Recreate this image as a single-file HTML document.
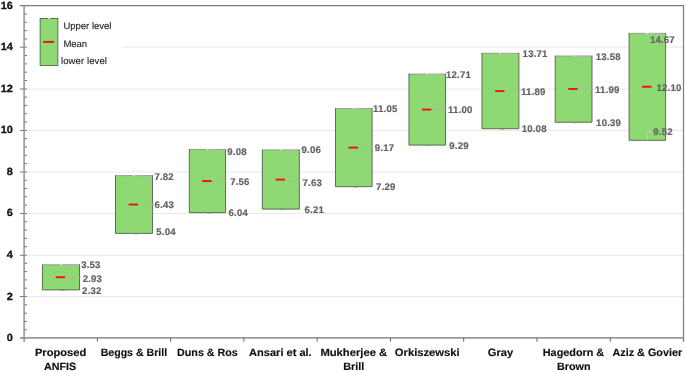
<!DOCTYPE html>
<html><head><meta charset="utf-8"><title>Chart</title>
<style>html,body{margin:0;padding:0;background:#fff}svg{display:block}</style></head>
<body>
<svg width="685" height="372" viewBox="0 0 685 372">
<rect width="685" height="372" fill="#fff"/>
<g text-rendering="geometricPrecision">
<line x1="24.1" y1="296.50" x2="683.5" y2="296.50" stroke="#e9e9e9" stroke-width="1"/>
<line x1="24.1" y1="255.30" x2="683.5" y2="255.30" stroke="#e9e9e9" stroke-width="1"/>
<line x1="24.1" y1="213.50" x2="683.5" y2="213.50" stroke="#e9e9e9" stroke-width="1"/>
<line x1="24.1" y1="172.00" x2="683.5" y2="172.00" stroke="#e9e9e9" stroke-width="1"/>
<line x1="24.1" y1="130.50" x2="683.5" y2="130.50" stroke="#e9e9e9" stroke-width="1"/>
<line x1="24.1" y1="89.00" x2="683.5" y2="89.00" stroke="#e9e9e9" stroke-width="1"/>
<line x1="121.8" y1="47.15" x2="683.5" y2="47.15" stroke="#e9e9e9" stroke-width="1"/>
<line x1="24.1" y1="329.79" x2="26.900000000000002" y2="329.79" stroke="#5a5a5a" stroke-width="0.9"/>
<line x1="24.1" y1="321.48" x2="26.900000000000002" y2="321.48" stroke="#5a5a5a" stroke-width="0.9"/>
<line x1="24.1" y1="313.17" x2="26.900000000000002" y2="313.17" stroke="#5a5a5a" stroke-width="0.9"/>
<line x1="24.1" y1="304.86" x2="26.900000000000002" y2="304.86" stroke="#5a5a5a" stroke-width="0.9"/>
<line x1="24.1" y1="288.24" x2="26.900000000000002" y2="288.24" stroke="#5a5a5a" stroke-width="0.9"/>
<line x1="24.1" y1="279.93" x2="26.900000000000002" y2="279.93" stroke="#5a5a5a" stroke-width="0.9"/>
<line x1="24.1" y1="271.62" x2="26.900000000000002" y2="271.62" stroke="#5a5a5a" stroke-width="0.9"/>
<line x1="24.1" y1="263.31" x2="26.900000000000002" y2="263.31" stroke="#5a5a5a" stroke-width="0.9"/>
<line x1="24.1" y1="246.69" x2="26.900000000000002" y2="246.69" stroke="#5a5a5a" stroke-width="0.9"/>
<line x1="24.1" y1="238.38" x2="26.900000000000002" y2="238.38" stroke="#5a5a5a" stroke-width="0.9"/>
<line x1="24.1" y1="230.07" x2="26.900000000000002" y2="230.07" stroke="#5a5a5a" stroke-width="0.9"/>
<line x1="24.1" y1="221.76" x2="26.900000000000002" y2="221.76" stroke="#5a5a5a" stroke-width="0.9"/>
<line x1="24.1" y1="205.14" x2="26.900000000000002" y2="205.14" stroke="#5a5a5a" stroke-width="0.9"/>
<line x1="24.1" y1="196.83" x2="26.900000000000002" y2="196.83" stroke="#5a5a5a" stroke-width="0.9"/>
<line x1="24.1" y1="188.52" x2="26.900000000000002" y2="188.52" stroke="#5a5a5a" stroke-width="0.9"/>
<line x1="24.1" y1="180.21" x2="26.900000000000002" y2="180.21" stroke="#5a5a5a" stroke-width="0.9"/>
<line x1="24.1" y1="163.59" x2="26.900000000000002" y2="163.59" stroke="#5a5a5a" stroke-width="0.9"/>
<line x1="24.1" y1="155.28" x2="26.900000000000002" y2="155.28" stroke="#5a5a5a" stroke-width="0.9"/>
<line x1="24.1" y1="146.97" x2="26.900000000000002" y2="146.97" stroke="#5a5a5a" stroke-width="0.9"/>
<line x1="24.1" y1="138.66" x2="26.900000000000002" y2="138.66" stroke="#5a5a5a" stroke-width="0.9"/>
<line x1="24.1" y1="122.04" x2="26.900000000000002" y2="122.04" stroke="#5a5a5a" stroke-width="0.9"/>
<line x1="24.1" y1="113.73" x2="26.900000000000002" y2="113.73" stroke="#5a5a5a" stroke-width="0.9"/>
<line x1="24.1" y1="105.42" x2="26.900000000000002" y2="105.42" stroke="#5a5a5a" stroke-width="0.9"/>
<line x1="24.1" y1="97.11" x2="26.900000000000002" y2="97.11" stroke="#5a5a5a" stroke-width="0.9"/>
<line x1="24.1" y1="80.49" x2="26.900000000000002" y2="80.49" stroke="#5a5a5a" stroke-width="0.9"/>
<line x1="24.1" y1="72.18" x2="26.900000000000002" y2="72.18" stroke="#5a5a5a" stroke-width="0.9"/>
<line x1="24.1" y1="63.87" x2="26.900000000000002" y2="63.87" stroke="#5a5a5a" stroke-width="0.9"/>
<line x1="24.1" y1="55.56" x2="26.900000000000002" y2="55.56" stroke="#5a5a5a" stroke-width="0.9"/>
<line x1="24.1" y1="38.94" x2="26.900000000000002" y2="38.94" stroke="#5a5a5a" stroke-width="0.9"/>
<line x1="24.1" y1="30.63" x2="26.900000000000002" y2="30.63" stroke="#5a5a5a" stroke-width="0.9"/>
<line x1="24.1" y1="22.32" x2="26.900000000000002" y2="22.32" stroke="#5a5a5a" stroke-width="0.9"/>
<line x1="24.1" y1="14.01" x2="26.900000000000002" y2="14.01" stroke="#5a5a5a" stroke-width="0.9"/>
<line x1="19.900000000000002" y1="337.90" x2="26.900000000000002" y2="337.90" stroke="#808080" stroke-width="1.1"/>
<line x1="19.900000000000002" y1="296.50" x2="26.900000000000002" y2="296.50" stroke="#808080" stroke-width="1.1"/>
<line x1="19.900000000000002" y1="255.30" x2="26.900000000000002" y2="255.30" stroke="#808080" stroke-width="1.1"/>
<line x1="19.900000000000002" y1="213.50" x2="26.900000000000002" y2="213.50" stroke="#808080" stroke-width="1.1"/>
<line x1="19.900000000000002" y1="172.00" x2="26.900000000000002" y2="172.00" stroke="#808080" stroke-width="1.1"/>
<line x1="19.900000000000002" y1="130.50" x2="26.900000000000002" y2="130.50" stroke="#808080" stroke-width="1.1"/>
<line x1="19.900000000000002" y1="89.00" x2="26.900000000000002" y2="89.00" stroke="#808080" stroke-width="1.1"/>
<line x1="19.900000000000002" y1="47.15" x2="26.900000000000002" y2="47.15" stroke="#808080" stroke-width="1.1"/>
<line x1="19.900000000000002" y1="5.55" x2="26.900000000000002" y2="5.55" stroke="#808080" stroke-width="1.1"/>
<line x1="19.900000000000002" y1="5.55" x2="684.1" y2="5.55" stroke="#7c7c7c" stroke-width="1.2"/>
<line x1="19.900000000000002" y1="337.9" x2="684.1" y2="337.9" stroke="#9a9a9a" stroke-width="1.6"/>
<line x1="24.1" y1="5.55" x2="24.1" y2="341.9" stroke="#929292" stroke-width="1.5"/>
<line x1="683.5" y1="5.55" x2="683.5" y2="341.9" stroke="#7c7c7c" stroke-width="1.2"/>
<line x1="97.37" y1="337.9" x2="97.37" y2="341.9" stroke="#6a6a6a" stroke-width="1.0"/>
<line x1="170.63" y1="337.9" x2="170.63" y2="341.9" stroke="#6a6a6a" stroke-width="1.0"/>
<line x1="243.90" y1="337.9" x2="243.90" y2="341.9" stroke="#6a6a6a" stroke-width="1.0"/>
<line x1="317.17" y1="337.9" x2="317.17" y2="341.9" stroke="#6a6a6a" stroke-width="1.0"/>
<line x1="390.43" y1="337.9" x2="390.43" y2="341.9" stroke="#6a6a6a" stroke-width="1.0"/>
<line x1="463.70" y1="337.9" x2="463.70" y2="341.9" stroke="#6a6a6a" stroke-width="1.0"/>
<line x1="536.97" y1="337.9" x2="536.97" y2="341.9" stroke="#6a6a6a" stroke-width="1.0"/>
<line x1="610.23" y1="337.9" x2="610.23" y2="341.9" stroke="#6a6a6a" stroke-width="1.0"/>
<text transform="translate(12.9,341.20) scale(1.05,1)" text-anchor="end" font-family="'Liberation Sans', sans-serif" font-weight="bold" font-size="10.4" fill="#111" stroke="#111" stroke-width="0.3">0</text>
<text transform="translate(12.9,299.90) scale(1.05,1)" text-anchor="end" font-family="'Liberation Sans', sans-serif" font-weight="bold" font-size="10.4" fill="#111" stroke="#111" stroke-width="0.3">2</text>
<text transform="translate(12.9,257.75) scale(1.05,1)" text-anchor="end" font-family="'Liberation Sans', sans-serif" font-weight="bold" font-size="10.4" fill="#111" stroke="#111" stroke-width="0.3">4</text>
<text transform="translate(12.9,216.45) scale(1.05,1)" text-anchor="end" font-family="'Liberation Sans', sans-serif" font-weight="bold" font-size="10.4" fill="#111" stroke="#111" stroke-width="0.3">6</text>
<text transform="translate(12.9,174.85) scale(1.05,1)" text-anchor="end" font-family="'Liberation Sans', sans-serif" font-weight="bold" font-size="10.4" fill="#111" stroke="#111" stroke-width="0.3">8</text>
<text transform="translate(12.9,132.95) scale(1.05,1)" text-anchor="end" font-family="'Liberation Sans', sans-serif" font-weight="bold" font-size="10.4" fill="#111" stroke="#111" stroke-width="0.3">10</text>
<text transform="translate(12.9,92.35) scale(1.05,1)" text-anchor="end" font-family="'Liberation Sans', sans-serif" font-weight="bold" font-size="10.4" fill="#111" stroke="#111" stroke-width="0.3">12</text>
<text transform="translate(12.9,50.10) scale(1.05,1)" text-anchor="end" font-family="'Liberation Sans', sans-serif" font-weight="bold" font-size="10.4" fill="#111" stroke="#111" stroke-width="0.3">14</text>
<text transform="translate(12.9,8.50) scale(1.05,1)" text-anchor="end" font-family="'Liberation Sans', sans-serif" font-weight="bold" font-size="10.4" fill="#111" stroke="#111" stroke-width="0.3">16</text>
<rect x="42.40" y="264.76" width="37.10" height="25.14" fill="#8ed973"/>
<line x1="42.10" y1="264.76" x2="79.80" y2="264.76" stroke="#868e82" stroke-width="0.8"/>
<polyline points="42.40,264.46 42.40,289.90 79.50,289.90 79.50,264.46" fill="none" stroke="#434d3e" stroke-width="0.8"/>
<line x1="60.45" y1="290.45" x2="64.95" y2="290.45" stroke="#7d8579" stroke-width="0.6"/>
<rect x="60.15" y="263.96" width="1.6" height="1.4" fill="#eef7ea"/>
<line x1="61.75" y1="264.76" x2="79.10" y2="266.16" stroke="#b9b9b9" stroke-width="0.8"/>
<line x1="60.95" y1="277.63" x2="80.70" y2="277.80" stroke="#a9b9a4" stroke-width="0.8"/>
<line x1="55.65" y1="277.23" x2="65.05" y2="277.23" stroke="#f01010" stroke-width="1.9"/>
<text x="81.20" y="268.40" font-family="'Liberation Sans', sans-serif" font-weight="bold" font-size="9.6" letter-spacing="0.2" fill="#636363" stroke="#636363" stroke-width="0.2">3.53</text>
<text x="82.70" y="281.80" font-family="'Liberation Sans', sans-serif" font-weight="bold" font-size="9.6" letter-spacing="0.2" fill="#636363" stroke="#636363" stroke-width="0.2">2.93</text>
<text x="82.10" y="294.10" font-family="'Liberation Sans', sans-serif" font-weight="bold" font-size="9.6" letter-spacing="0.2" fill="#636363" stroke="#636363" stroke-width="0.2">2.32</text>
<rect x="115.50" y="175.64" width="37.05" height="57.75" fill="#8ed973"/>
<line x1="115.20" y1="175.64" x2="152.85" y2="175.64" stroke="#868e82" stroke-width="0.8"/>
<polyline points="115.50,175.34 115.50,233.39 152.55,233.39 152.55,175.34" fill="none" stroke="#434d3e" stroke-width="0.8"/>
<line x1="133.53" y1="233.94" x2="138.03" y2="233.94" stroke="#7d8579" stroke-width="0.6"/>
<rect x="133.22" y="174.84" width="1.6" height="1.4" fill="#eef7ea"/>
<line x1="134.83" y1="175.64" x2="152.15" y2="177.04" stroke="#b9b9b9" stroke-width="0.8"/>
<line x1="134.03" y1="204.92" x2="153.75" y2="204.20" stroke="#a9b9a4" stroke-width="0.8"/>
<line x1="128.72" y1="204.52" x2="138.12" y2="204.52" stroke="#f01010" stroke-width="1.9"/>
<text x="154.40" y="179.90" font-family="'Liberation Sans', sans-serif" font-weight="bold" font-size="9.6" letter-spacing="0.2" fill="#636363" stroke="#636363" stroke-width="0.2">7.82</text>
<text x="154.60" y="208.20" font-family="'Liberation Sans', sans-serif" font-weight="bold" font-size="9.6" letter-spacing="0.2" fill="#636363" stroke="#636363" stroke-width="0.2">6.43</text>
<text x="156.30" y="235.10" font-family="'Liberation Sans', sans-serif" font-weight="bold" font-size="9.6" letter-spacing="0.2" fill="#636363" stroke="#636363" stroke-width="0.2">5.04</text>
<rect x="189.30" y="149.46" width="36.25" height="63.16" fill="#8ed973"/>
<line x1="189.00" y1="149.46" x2="225.85" y2="149.46" stroke="#868e82" stroke-width="0.8"/>
<polyline points="189.30,149.16 189.30,212.62 225.55,212.62 225.55,149.16" fill="none" stroke="#434d3e" stroke-width="0.8"/>
<line x1="206.93" y1="213.17" x2="211.43" y2="213.17" stroke="#7d8579" stroke-width="0.6"/>
<rect x="206.62" y="148.66" width="1.6" height="1.4" fill="#eef7ea"/>
<line x1="208.23" y1="149.46" x2="225.15" y2="150.86" stroke="#b9b9b9" stroke-width="0.8"/>
<line x1="207.43" y1="181.44" x2="226.75" y2="181.40" stroke="#a9b9a4" stroke-width="0.8"/>
<line x1="202.12" y1="181.04" x2="211.53" y2="181.04" stroke="#f01010" stroke-width="1.9"/>
<text x="227.30" y="154.70" font-family="'Liberation Sans', sans-serif" font-weight="bold" font-size="9.6" letter-spacing="0.2" fill="#636363" stroke="#636363" stroke-width="0.2">9.08</text>
<text x="230.20" y="185.40" font-family="'Liberation Sans', sans-serif" font-weight="bold" font-size="9.6" letter-spacing="0.2" fill="#636363" stroke="#636363" stroke-width="0.2">7.56</text>
<text x="228.50" y="216.40" font-family="'Liberation Sans', sans-serif" font-weight="bold" font-size="9.6" letter-spacing="0.2" fill="#636363" stroke="#636363" stroke-width="0.2">6.04</text>
<rect x="262.30" y="149.88" width="37.00" height="59.21" fill="#8ed973"/>
<line x1="262.00" y1="149.88" x2="299.60" y2="149.88" stroke="#868e82" stroke-width="0.8"/>
<polyline points="262.30,149.58 262.30,209.09 299.30,209.09 299.30,149.58" fill="none" stroke="#434d3e" stroke-width="0.8"/>
<line x1="280.30" y1="209.64" x2="284.80" y2="209.64" stroke="#7d8579" stroke-width="0.6"/>
<rect x="280.00" y="149.08" width="1.6" height="1.4" fill="#eef7ea"/>
<line x1="281.60" y1="149.88" x2="298.90" y2="151.28" stroke="#b9b9b9" stroke-width="0.8"/>
<line x1="280.80" y1="179.99" x2="300.50" y2="181.90" stroke="#a9b9a4" stroke-width="0.8"/>
<line x1="275.50" y1="179.59" x2="284.90" y2="179.59" stroke="#f01010" stroke-width="1.9"/>
<text x="301.50" y="153.30" font-family="'Liberation Sans', sans-serif" font-weight="bold" font-size="9.6" letter-spacing="0.2" fill="#636363" stroke="#636363" stroke-width="0.2">9.06</text>
<text x="302.50" y="185.90" font-family="'Liberation Sans', sans-serif" font-weight="bold" font-size="9.6" letter-spacing="0.2" fill="#636363" stroke="#636363" stroke-width="0.2">7.63</text>
<text x="304.50" y="213.40" font-family="'Liberation Sans', sans-serif" font-weight="bold" font-size="9.6" letter-spacing="0.2" fill="#636363" stroke="#636363" stroke-width="0.2">6.21</text>
<rect x="335.50" y="108.54" width="36.60" height="78.11" fill="#8ed973"/>
<line x1="335.20" y1="108.54" x2="372.40" y2="108.54" stroke="#868e82" stroke-width="0.8"/>
<polyline points="335.50,108.24 335.50,186.65 372.10,186.65 372.10,108.24" fill="none" stroke="#434d3e" stroke-width="0.8"/>
<line x1="353.30" y1="187.20" x2="357.80" y2="187.20" stroke="#7d8579" stroke-width="0.6"/>
<rect x="353.00" y="107.74" width="1.6" height="1.4" fill="#eef7ea"/>
<line x1="354.60" y1="108.54" x2="371.70" y2="109.94" stroke="#b9b9b9" stroke-width="0.8"/>
<line x1="353.80" y1="147.99" x2="373.30" y2="147.40" stroke="#a9b9a4" stroke-width="0.8"/>
<line x1="348.50" y1="147.59" x2="357.90" y2="147.59" stroke="#f01010" stroke-width="1.9"/>
<text x="373.10" y="112.20" font-family="'Liberation Sans', sans-serif" font-weight="bold" font-size="9.6" letter-spacing="0.2" fill="#636363" stroke="#636363" stroke-width="0.2">11.05</text>
<text x="374.80" y="151.40" font-family="'Liberation Sans', sans-serif" font-weight="bold" font-size="9.6" letter-spacing="0.2" fill="#636363" stroke="#636363" stroke-width="0.2">9.17</text>
<text x="376.10" y="189.90" font-family="'Liberation Sans', sans-serif" font-weight="bold" font-size="9.6" letter-spacing="0.2" fill="#636363" stroke="#636363" stroke-width="0.2">7.29</text>
<rect x="408.95" y="74.05" width="36.60" height="71.05" fill="#8ed973"/>
<line x1="408.65" y1="74.05" x2="445.85" y2="74.05" stroke="#868e82" stroke-width="0.8"/>
<polyline points="408.95,73.75 408.95,145.10 445.55,145.10 445.55,73.75" fill="none" stroke="#434d3e" stroke-width="0.8"/>
<line x1="426.75" y1="145.65" x2="431.25" y2="145.65" stroke="#7d8579" stroke-width="0.6"/>
<rect x="426.45" y="73.25" width="1.6" height="1.4" fill="#eef7ea"/>
<line x1="428.05" y1="74.05" x2="445.15" y2="75.45" stroke="#b9b9b9" stroke-width="0.8"/>
<line x1="427.25" y1="109.98" x2="446.75" y2="109.10" stroke="#a9b9a4" stroke-width="0.8"/>
<line x1="421.95" y1="109.58" x2="431.35" y2="109.58" stroke="#f01010" stroke-width="1.9"/>
<text x="446.00" y="78.10" font-family="'Liberation Sans', sans-serif" font-weight="bold" font-size="9.6" letter-spacing="0.2" fill="#636363" stroke="#636363" stroke-width="0.2">12.71</text>
<text x="448.10" y="113.10" font-family="'Liberation Sans', sans-serif" font-weight="bold" font-size="9.6" letter-spacing="0.2" fill="#636363" stroke="#636363" stroke-width="0.2">11.00</text>
<text x="449.30" y="149.40" font-family="'Liberation Sans', sans-serif" font-weight="bold" font-size="9.6" letter-spacing="0.2" fill="#636363" stroke="#636363" stroke-width="0.2">9.29</text>
<rect x="481.95" y="53.27" width="36.95" height="75.41" fill="#8ed973"/>
<line x1="481.65" y1="53.27" x2="519.20" y2="53.27" stroke="#868e82" stroke-width="0.8"/>
<polyline points="481.95,52.97 481.95,128.69 518.90,128.69 518.90,52.97" fill="none" stroke="#434d3e" stroke-width="0.8"/>
<line x1="499.92" y1="129.24" x2="504.42" y2="129.24" stroke="#7d8579" stroke-width="0.6"/>
<rect x="499.62" y="52.47" width="1.6" height="1.4" fill="#eef7ea"/>
<line x1="501.22" y1="53.27" x2="518.50" y2="54.67" stroke="#b9b9b9" stroke-width="0.8"/>
<line x1="500.42" y1="91.49" x2="520.10" y2="90.70" stroke="#a9b9a4" stroke-width="0.8"/>
<line x1="495.12" y1="91.09" x2="504.52" y2="91.09" stroke="#f01010" stroke-width="1.9"/>
<text x="522.60" y="56.90" font-family="'Liberation Sans', sans-serif" font-weight="bold" font-size="9.6" letter-spacing="0.2" fill="#636363" stroke="#636363" stroke-width="0.2">13.71</text>
<text x="521.10" y="94.70" font-family="'Liberation Sans', sans-serif" font-weight="bold" font-size="9.6" letter-spacing="0.2" fill="#636363" stroke="#636363" stroke-width="0.2">11.89</text>
<text x="521.70" y="132.30" font-family="'Liberation Sans', sans-serif" font-weight="bold" font-size="9.6" letter-spacing="0.2" fill="#636363" stroke="#636363" stroke-width="0.2">10.08</text>
<rect x="555.20" y="55.98" width="36.80" height="66.27" fill="#8ed973"/>
<line x1="554.90" y1="55.98" x2="592.30" y2="55.98" stroke="#868e82" stroke-width="0.8"/>
<polyline points="555.20,55.68 555.20,122.25 592.00,122.25 592.00,55.68" fill="none" stroke="#434d3e" stroke-width="0.8"/>
<line x1="573.10" y1="122.80" x2="577.60" y2="122.80" stroke="#7d8579" stroke-width="0.6"/>
<rect x="572.80" y="55.18" width="1.6" height="1.4" fill="#eef7ea"/>
<line x1="574.40" y1="55.98" x2="591.60" y2="57.38" stroke="#b9b9b9" stroke-width="0.8"/>
<line x1="573.60" y1="89.41" x2="593.20" y2="88.70" stroke="#a9b9a4" stroke-width="0.8"/>
<line x1="568.30" y1="89.01" x2="577.70" y2="89.01" stroke="#f01010" stroke-width="1.9"/>
<text x="595.80" y="59.50" font-family="'Liberation Sans', sans-serif" font-weight="bold" font-size="9.6" letter-spacing="0.2" fill="#636363" stroke="#636363" stroke-width="0.2">13.58</text>
<text x="595.10" y="92.70" font-family="'Liberation Sans', sans-serif" font-weight="bold" font-size="9.6" letter-spacing="0.2" fill="#636363" stroke="#636363" stroke-width="0.2">11.99</text>
<text x="596.10" y="125.90" font-family="'Liberation Sans', sans-serif" font-weight="bold" font-size="9.6" letter-spacing="0.2" fill="#636363" stroke="#636363" stroke-width="0.2">10.39</text>
<rect x="629.10" y="33.33" width="36.50" height="106.99" fill="#8ed973"/>
<line x1="628.80" y1="33.33" x2="665.90" y2="33.33" stroke="#868e82" stroke-width="0.8"/>
<polyline points="629.10,33.03 629.10,140.32 665.60,140.32 665.60,33.03" fill="none" stroke="#434d3e" stroke-width="0.8"/>
<rect x="646.55" y="32.53" width="1.6" height="1.4" fill="#eef7ea"/>
<line x1="648.15" y1="33.33" x2="665.20" y2="34.73" stroke="#b9b9b9" stroke-width="0.8"/>
<line x1="642.05" y1="86.72" x2="651.45" y2="86.72" stroke="#f01010" stroke-width="1.9"/>
<polyline points="647.35,140.32 647.35,131.5 651,131.5" fill="none" stroke="#bfdab6" stroke-width="0.8"/>
<text x="649.90" y="43.30" font-family="'Liberation Sans', sans-serif" font-weight="bold" font-size="9.6" letter-spacing="0.2" fill="#636363" stroke="#636363" stroke-width="0.2">14.67</text>
<text x="656.50" y="90.70" font-family="'Liberation Sans', sans-serif" font-weight="bold" font-size="9.6" letter-spacing="0.2" fill="#636363" stroke="#636363" stroke-width="0.2">12.10</text>
<text x="653.30" y="135.40" font-family="'Liberation Sans', sans-serif" font-weight="bold" font-size="9.6" letter-spacing="0.2" fill="#636363" stroke="#636363" stroke-width="0.2">9.52</text>
<rect x="40.1" y="18.4" width="17.8" height="47.2" fill="#8ed973" stroke="#434d3e" stroke-width="0.75"/>
<rect x="48.2" y="17.6" width="1.6" height="1.4" fill="#eef7ea"/>
<line x1="43.2" y1="41.9" x2="54.1" y2="41.9" stroke="#ee1111" stroke-width="2"/>
<text x="63.4" y="28.9" letter-spacing="0" font-family="'Liberation Sans', sans-serif" font-size="9.5" fill="#1c1c28" stroke="#1c1c28" stroke-width="0.12">Upper level</text>
<text x="63.4" y="46.7" letter-spacing="0" font-family="'Liberation Sans', sans-serif" font-size="9.5" fill="#1c1c28" stroke="#1c1c28" stroke-width="0.12">Mean</text>
<text x="61.0" y="64.1" letter-spacing="0.1" font-family="'Liberation Sans', sans-serif" font-size="9.5" fill="#1c1c28" stroke="#1c1c28" stroke-width="0.12">lower level</text>
<text x="34.90" y="356.10" textLength="51.40" lengthAdjust="spacingAndGlyphs" font-family="'Liberation Sans', sans-serif" font-weight="bold" font-size="10.6" fill="#111" stroke="#111" stroke-width="0.15">Proposed</text>
<text x="43.90" y="370.30" textLength="32.30" lengthAdjust="spacingAndGlyphs" font-family="'Liberation Sans', sans-serif" font-weight="bold" font-size="10.6" fill="#111" stroke="#111" stroke-width="0.15">ANFIS</text>
<text x="100.70" y="356.10" textLength="66.40" lengthAdjust="spacingAndGlyphs" font-family="'Liberation Sans', sans-serif" font-weight="bold" font-size="10.6" fill="#111" stroke="#111" stroke-width="0.15">Beggs &amp; Brill</text>
<text x="177.10" y="356.10" textLength="60.70" lengthAdjust="spacingAndGlyphs" font-family="'Liberation Sans', sans-serif" font-weight="bold" font-size="10.6" fill="#111" stroke="#111" stroke-width="0.15">Duns &amp; Ros</text>
<text x="249.10" y="356.10" textLength="62.60" lengthAdjust="spacingAndGlyphs" font-family="'Liberation Sans', sans-serif" font-weight="bold" font-size="10.6" fill="#111" stroke="#111" stroke-width="0.15">Ansari et al.</text>
<text x="320.40" y="356.10" textLength="66.80" lengthAdjust="spacingAndGlyphs" font-family="'Liberation Sans', sans-serif" font-weight="bold" font-size="10.6" fill="#111" stroke="#111" stroke-width="0.15">Mukherjee &amp;</text>
<text x="343.20" y="370.30" textLength="21.20" lengthAdjust="spacingAndGlyphs" font-family="'Liberation Sans', sans-serif" font-weight="bold" font-size="10.6" fill="#111" stroke="#111" stroke-width="0.15">Brill</text>
<text x="394.80" y="356.10" textLength="64.90" lengthAdjust="spacingAndGlyphs" font-family="'Liberation Sans', sans-serif" font-weight="bold" font-size="10.6" fill="#111" stroke="#111" stroke-width="0.15">Orkiszewski</text>
<text x="487.70" y="356.10" textLength="25.50" lengthAdjust="spacingAndGlyphs" font-family="'Liberation Sans', sans-serif" font-weight="bold" font-size="10.6" fill="#111" stroke="#111" stroke-width="0.15">Gray</text>
<text x="542.80" y="356.10" textLength="61.40" lengthAdjust="spacingAndGlyphs" font-family="'Liberation Sans', sans-serif" font-weight="bold" font-size="10.6" fill="#111" stroke="#111" stroke-width="0.15">Hagedorn &amp;</text>
<text x="557.00" y="370.30" textLength="33.60" lengthAdjust="spacingAndGlyphs" font-family="'Liberation Sans', sans-serif" font-weight="bold" font-size="10.6" fill="#111" stroke="#111" stroke-width="0.15">Brown</text>
<text x="612.50" y="356.10" textLength="69.60" lengthAdjust="spacingAndGlyphs" font-family="'Liberation Sans', sans-serif" font-weight="bold" font-size="10.6" fill="#111" stroke="#111" stroke-width="0.15">Aziz &amp; Govier</text>
</g></svg>
</body></html>
